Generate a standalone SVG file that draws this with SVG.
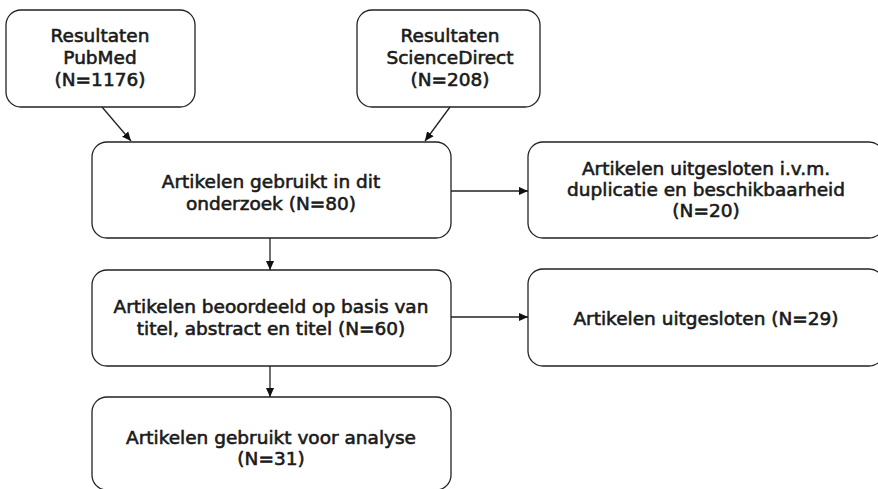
<svg xmlns="http://www.w3.org/2000/svg" width="878" height="489" viewBox="0 0 878 489">
  <style>
    .box { fill: #ffffff; stroke: #222222; stroke-width: 1.3; }
    .lbl { font-family: "DejaVu Sans", Verdana, sans-serif; font-size: 18.5px; fill: #1a1a1a; stroke: #1a1a1a; stroke-width: 0.6; text-anchor: middle; }
    .edge { stroke: #222222; stroke-width: 1.3; fill: none; marker-end: url(#arrow); }
  </style>
  <defs>
    <marker id="arrow" viewBox="0 0 10 10" refX="10" refY="5" markerWidth="9" markerHeight="9" markerUnits="userSpaceOnUse" orient="auto">
      <path d="M0,0.5 L10,5 L0,9.5 Z" fill="#111111"/>
    </marker>
  </defs>
  <rect width="878" height="489" fill="#ffffff"/>

  <g id="pubmed">
    <rect class="box" x="6" y="10" width="189" height="97" rx="15"/>
    <text class="lbl" x="100" y="42">Resultaten</text>
    <text class="lbl" x="100" y="64">PubMed</text>
    <text class="lbl" x="100" y="86">(N=1176)</text>
  </g>

  <g id="sciencedirect">
    <rect class="box" x="357" y="10" width="183" height="97" rx="15"/>
    <text class="lbl" x="450" y="42">Resultaten</text>
    <text class="lbl" x="450" y="64">ScienceDirect</text>
    <text class="lbl" x="450" y="86">(N=208)</text>
  </g>

  <g id="gebruikt">
    <rect class="box" x="92" y="142" width="359" height="96" rx="15"/>
    <text class="lbl" x="271" y="188">Artikelen gebruikt in dit</text>
    <text class="lbl" x="271" y="210">onderzoek (N=80)</text>
  </g>

  <g id="uitgesloten-duplicatie">
    <rect class="box" x="528" y="142" width="356" height="96" rx="15"/>
    <text class="lbl" x="706" y="175">Artikelen uitgesloten i.v.m.</text>
    <text class="lbl" x="706" y="196">duplicatie en beschikbaarheid</text>
    <text class="lbl" x="706" y="217">(N=20)</text>
  </g>

  <g id="beoordeeld">
    <rect class="box" x="92" y="270" width="359" height="96" rx="15"/>
    <text class="lbl" x="271" y="313">Artikelen beoordeeld op basis van</text>
    <text class="lbl" x="271" y="335">titel, abstract en titel (N=60)</text>
  </g>

  <g id="uitgesloten">
    <rect class="box" x="528" y="269" width="356" height="97" rx="15"/>
    <text class="lbl" x="706" y="325">Artikelen uitgesloten (N=29)</text>
  </g>

  <g id="analyse">
    <rect class="box" x="92" y="397" width="359" height="93" rx="15"/>
    <text class="lbl" x="271" y="444">Artikelen gebruikt voor analyse</text>
    <text class="lbl" x="271" y="465">(N=31)</text>
  </g>

  <g id="connectors">
    <line class="edge" x1="102" y1="107" x2="131" y2="141"/>
    <line class="edge" x1="450" y1="107" x2="425" y2="141"/>
    <line class="edge" x1="451" y1="191" x2="528" y2="191"/>
    <line class="edge" x1="270" y1="238" x2="270" y2="270"/>
    <line class="edge" x1="451" y1="317" x2="528" y2="317"/>
    <line class="edge" x1="270" y1="366" x2="270" y2="397"/>
  </g>
</svg>
